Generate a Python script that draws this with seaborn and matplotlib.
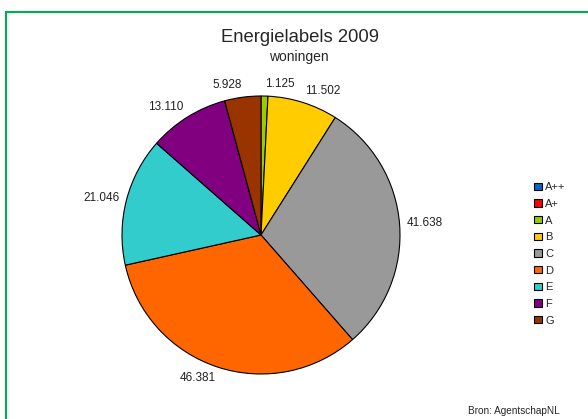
import matplotlib
matplotlib.use("Agg")
import numpy as np
import matplotlib.pyplot as plt
from matplotlib.patches import Patch, Rectangle
from matplotlib.transforms import offset_copy
import seaborn as sns

sns.set_style("white")
plt.rcParams['font.family'] = ['Liberation Sans', 'DejaVu Sans']

categories = ["A++", "A+", "A", "B", "C", "D", "E", "F", "G"]
values = [0, 0, 1125, 11502, 41638, 46381, 21046, 13110, 5928]
colors = ["#0066CC", "#FF0000", "#99CC00", "#FFCC00", "#999999",
          "#FF6600", "#33CCCC", "#800080", "#993300"]
title = "Energielabels 2009"
subtitle = "woningen"
source = "Bron: AgentschapNL"

W, H = 588, 419
fig = plt.figure(figsize=(W / 100, H / 100), dpi=100)
fig.patch.set_facecolor("white")

# green frame
fig.patches.append(Rectangle((6 / W, 0 - 0.05), 1.2, 1 - 12 / H + 0.05,
                             transform=fig.transFigure, fill=False,
                             edgecolor="#00B050", linewidth=1.5))

cx, cy, r = 261, 235, 139
ax = fig.add_axes([(cx - r) / W, (H - cy - r) / H, 2 * r / W, 2 * r / H])
labels = [f"{v:,}".replace(",", ".") if v > 0 else "" for v in values]
wedges, texts = ax.pie(values, labels=labels, colors=colors, startangle=90,
                       counterclock=False, labeldistance=1.05,
                       wedgeprops=dict(edgecolor="black", linewidth=0.8),
                       textprops=dict(fontsize=8.5, color="#222222"))
ax.set_xlim(-1, 1)
ax.set_ylim(-1, 1)
ax.axis("off")

# push labels outward vertically by half their height (Excel-like placement)
for w, t in zip(wedges, texts):
    phi = np.deg2rad((w.theta1 + w.theta2) / 2)
    t.set_transform(offset_copy(ax.transData, fig=fig, x=0,
                                y=3.6 * np.sin(phi), units="points"))

fig.text(300 / W, 1 - 38 / H, title, ha="center", va="center", fontsize=13.3)
fig.text(299 / W, 1 - 57 / H, subtitle, ha="center", va="center", fontsize=10)
fig.text(560 / W, 1 - 406 / H, source, ha="right", va="top", fontsize=7.2)

handles = [Patch(facecolor=c, edgecolor="black", linewidth=0.8) for c in colors]
fig.legend(handles, categories, loc="center left",
           bbox_to_anchor=(530 / W, 1 - 254 / H), frameon=False,
           fontsize=8, handlelength=0.65, handleheight=0.65,
           handletextpad=0.3, labelspacing=0.6, borderaxespad=0)

fig.savefig("out.png", dpi=100, facecolor="white")
